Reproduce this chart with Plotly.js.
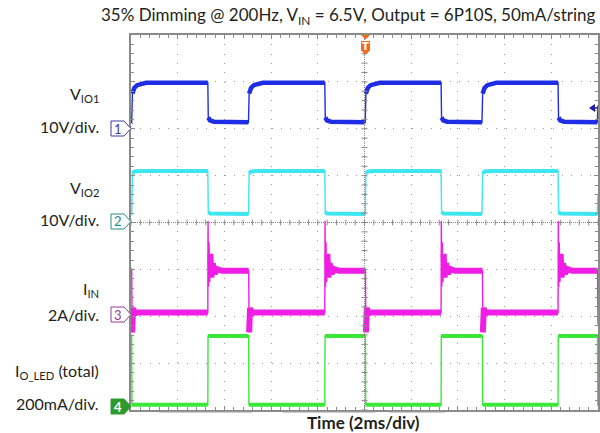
<!DOCTYPE html>
<html><head><meta charset="utf-8">
<script src="https://cdn.plot.ly/plotly-3.0.1.min.js"></script>
<style>html,body{margin:0;padding:0;background:#fff;}#chart{width:600px;height:433px;}</style>
</head><body><div id="chart"></div>
<script>
// ---- Data (time in ms, trigger at 0) ----
// CH1: V_IO1 (volts)
const ch1T = [-10, -9.97, -9.94, -9.86, -9.74, -9.58, -9.35, -6.71, -6.69, -6.62, -6.45, -4.97, -4.94, -4.86, -4.74, -4.58, -4.35, -1.70, -1.68, -1.61, -1.44, 0.03, 0.06, 0.14, 0.26, 0.42, 0.65, 3.28, 3.30, 3.37, 3.54, 5.03, 5.06, 5.14, 5.26, 5.42, 5.65, 8.29, 8.31, 8.38, 8.55, 9.97, 10];
const ch1V = [1.4, 1.5, 7.5, 8.7, 9.3, 9.6, 9.8, 9.8, 2.4, 1.8, 1.5, 1.4, 7.5, 8.7, 9.3, 9.6, 9.8, 9.8, 2.4, 1.8, 1.5, 1.4, 7.5, 8.7, 9.3, 9.6, 9.8, 9.8, 2.4, 1.8, 1.5, 1.4, 7.5, 8.7, 9.3, 9.6, 9.8, 9.8, 2.4, 1.8, 1.5, 1.4, 5.0];
// CH2: V_IO2 (volts)
const ch2T = [-10, -9.97, -9.94, -9.85, -9.6, -6.71, -6.69, -6.6, -4.97, -4.94, -4.85, -4.6, -1.70, -1.68, -1.6, 0.03, 0.06, 0.15, 0.4, 3.28, 3.30, 3.39, 5.03, 5.06, 5.15, 5.4, 8.29, 8.31, 8.4, 9.97, 10];
const ch2V = [1.8, 1.9, 10.5, 10.9, 11.0, 11.0, 2.2, 1.9, 1.8, 10.5, 10.9, 11.0, 11.0, 2.2, 1.9, 1.8, 10.5, 10.9, 11.0, 11.0, 2.2, 1.9, 1.8, 10.5, 10.9, 11.0, 11.0, 2.2, 1.9, 1.8, 6.0];
// CH3: I_IN (amps)
const ch3T = [-10, -9.97, -9.95, -9.91, -9.86, -9.75,
  -6.71, -6.70, -6.68, -6.66, -6.63, -6.60, -6.56, -6.50, -6.42, -6.30, -6.10,
  -4.96, -4.94, -4.90, -4.85, -4.75,
  -1.70, -1.69, -1.67, -1.65, -1.62, -1.59, -1.55, -1.49, -1.41, -1.29, -1.09,
  0.04, 0.06, 0.10, 0.15, 0.25,
  3.28, 3.29, 3.31, 3.33, 3.36, 3.39, 3.43, 3.49, 3.57, 3.69, 3.89,
  5.05, 5.07, 5.11, 5.16, 5.26,
  8.29, 8.30, 8.32, 8.34, 8.37, 8.40, 8.44, 8.50, 8.58, 8.70, 8.90,
  9.98, 10];
const ch3V = [1.88, 1.88, -0.75, 0.3, 0.05, 0.1,
  0.1, 4.0, 1.2, 3.1, 1.4, 2.6, 1.6, 2.2, 1.75, 1.95, 1.88,
  1.88, -0.75, 0.3, 0.05, 0.1,
  0.1, 4.0, 1.2, 3.1, 1.4, 2.6, 1.6, 2.2, 1.75, 1.95, 1.88,
  1.88, -0.75, 0.3, 0.05, 0.1,
  0.1, 4.0, 1.2, 3.1, 1.4, 2.6, 1.6, 2.2, 1.75, 1.95, 1.88,
  1.88, -0.75, 0.3, 0.05, 0.1,
  0.1, 4.0, 1.2, 3.1, 1.4, 2.6, 1.6, 2.2, 1.75, 1.95, 1.88,
  1.88, -0.4];
// CH4: I_O_LED total (mA)
const ch4T = [-10, -9.97, -9.96, -6.71, -6.70, -4.96, -4.95, -1.70, -1.69, 0.04, 0.05, 3.28, 3.29, 5.05, 5.06, 8.29, 8.30, 9.98, 9.99, 10];
const ch4V = [300, 300, 6, 6, 300, 300, 6, 6, 300, 300, 6, 6, 300, 300, 6, 6, 300, 300, 6, 6];

// Text
const titleText = '35% Dimming @ 200Hz, V<sub>IN</sub> = 6.5V, Output = 6P10S, 50mA/string';
const chNames = ['V<sub>IO1</sub>', 'V<sub>IO2</sub>', 'I<sub>IN</sub>', 'I<sub>O_LED</sub> (total)'];
const chScales = ['10V/div.', '10V/div.', '2A/div.', '200mA/div.'];
const xTitle = '<b>Time (2ms/div)</b>';

// ---- Channel display settings (per-div scale, vertical offset in divisions, colours) ----
const chans = [
  {t: ch1T, v: ch1V, scale: 10, off: 2.0, color: '#1f2ee6', band: 4.5, mark: '#3a3aa0', num: '1', fillMark: false},
  {t: ch2T, v: ch2V, scale: 10, off: 0.0, color: '#3ee6f0', band: 4, mark: '#2a8c8c', num: '2', fillMark: false},
  {t: ch3T, v: ch3V, scale: 2, off: -1.97, color: '#f01ee4', band: 6, mark: '#963a96', num: '3', fillMark: false},
  {t: ch4T, v: ch4V, scale: 200, off: -3.92, color: '#3ae83a', band: 4, mark: '#2e9a2e', num: '4', fillMark: true}
];

// Frame in pixels
const L = 131, R = 598, T = 35, B = 410;
const W = R - L, H = B - T;
const pX = x => (x - L) / W;
const pY = y => (B - y) / H;

const traces = [];
chans.forEach(c => {
  const yd = c.v.map(v => v / c.scale + c.off);
  traces.push({x: c.t, y: yd, mode: 'lines', line: {color: c.color, width: 1.4}, hoverinfo: 'skip', showlegend: false});
  // thick (noisy-looking) band on flat parts only; gaps across fast edges
  const bx = [], by = [];
  for (let i = 0; i < c.t.length; i++) {
    bx.push(c.t[i]); by.push(yd[i]);
    if (i < c.t.length - 1) {
      const dt = c.t[i + 1] - c.t[i], dy = Math.abs(yd[i + 1] - yd[i]);
      if (dt < 0.035 && dy > 0.3) { bx.push(null); by.push(null); }
    }
  }
  traces.push({x: bx, y: by, mode: 'lines', connectgaps: false, line: {color: c.color, width: c.band}, hoverinfo: 'skip', showlegend: false});
});

const gridCol = '#9a9a9a';
const frameCol = '#8a8a8a';
const shapes = [];
// centre graticule lines (dense dots + minor ticks)
shapes.push({type: 'line', xref: 'x', yref: 'y', x0: -10, x1: 10, y0: 0, y1: 0, line: {color: '#8a8a8a', width: 1, dash: '1px,1px'}});
shapes.push({type: 'line', xref: 'x', yref: 'y', x0: 0, x1: 0, y0: -4, y1: 4, line: {color: '#8a8a8a', width: 1, dash: '1px,1px'}});
for (let k = -25; k <= 25; k++) {
  const x = k * 0.4;
  shapes.push({type: 'line', xref: 'x', yref: 'y', x0: x, x1: x, y0: -0.06, y1: 0.06, line: {color: '#8a8a8a', width: 1}});
}
for (let k = -20; k <= 20; k++) {
  const y = k * 0.2;
  shapes.push({type: 'line', xref: 'x', yref: 'y', x0: -0.13, x1: 0.13, y0: y, y1: y, line: {color: '#8a8a8a', width: 1}});
}
// channel markers (pentagon boxes)
const markY = [128.5, 221.5, 314.5, 406.5];
const annotations = [];
chans.forEach((c, i) => {
  const yc = markY[i];
  const path = `M${pX(111)},${pY(yc - 7.5)} L${pX(124)},${pY(yc - 7.5)} L${pX(131)},${pY(yc)} L${pX(124)},${pY(yc + 7.5)} L${pX(111)},${pY(yc + 7.5)} Z`;
  shapes.push({type: 'path', xref: 'paper', yref: 'paper', path: path, line: {color: c.mark, width: 1}, fillcolor: c.fillMark ? c.mark : '#ffffff'});
  annotations.push({xref: 'paper', yref: 'paper', x: pX(117.5), y: pY(yc), text: c.fillMark ? '<b>' + c.num + '</b>' : c.num, showarrow: false, xanchor: 'center', yanchor: 'middle', font: {family: 'Lato, sans-serif', size: 13, color: c.fillMark ? '#ffffff' : c.mark}});
});
// trigger marker (top) and trigger level arrow (right)
shapes.push({type: 'path', xref: 'paper', yref: 'paper', path: `M${pX(361)},${pY(35)} L${pX(370)},${pY(35)} L${pX(365.5)},${pY(39.5)} Z`, line: {width: 0}, fillcolor: '#f26b1d'});
shapes.push({type: 'path', xref: 'paper', yref: 'paper', path: `M${pX(361)},${pY(41)} L${pX(370)},${pY(41)} L${pX(370)},${pY(50.5)} L${pX(365.5)},${pY(54.5)} L${pX(361)},${pY(50.5)} Z`, line: {width: 0}, fillcolor: '#f26b1d'});
annotations.push({xref: 'paper', yref: 'paper', x: pX(365.5), y: pY(46.5), text: '<b>T</b>', showarrow: false, xanchor: 'center', yanchor: 'middle', font: {family: 'DejaVu Sans, sans-serif', size: 10, color: '#ffffff'}});
shapes.push({type: 'path', xref: 'paper', yref: 'paper', path: `M${pX(589)},${pY(108)} L${pX(595)},${pY(104)} L${pX(595)},${pY(112)} Z`, line: {width: 0}, fillcolor: '#1f1f9f'});
shapes.push({type: 'line', xref: 'paper', yref: 'paper', x0: pX(595), x1: pX(598), y0: pY(108), y1: pY(108), line: {color: '#1f1f9f', width: 1.5}});
// ruler segments below the frame
[[159, 252], [283, 375], [389, 445]].forEach(s => {
  shapes.push({type: 'line', xref: 'paper', yref: 'paper', x0: pX(s[0]), x1: pX(s[1]), y0: pY(412), y1: pY(412), line: {color: '#a0a0a0', width: 1.2}});
});

// labels
const txtFont = {family: 'Lato, sans-serif', size: 16, color: '#231f20'};
const nameY = [94, 188, 289, 371];
const scaleY = [126, 219, 315, 403];
chNames.forEach((n, i) => {
  annotations.push({xref: 'paper', yref: 'paper', x: pX(101), y: pY(nameY[i]), text: n, showarrow: false, xanchor: 'right', yanchor: 'middle', font: txtFont});
  annotations.push({xref: 'paper', yref: 'paper', x: pX(101), y: pY(scaleY[i]), text: chScales[i], showarrow: false, xanchor: 'right', yanchor: 'middle', font: txtFont});
});
annotations.push({xref: 'paper', yref: 'paper', x: pX(348), y: pY(16), text: titleText, showarrow: false, xanchor: 'center', yanchor: 'middle', font: {family: 'Lato, sans-serif', size: 17, color: '#231f20'}});
annotations.push({xref: 'paper', yref: 'paper', x: pX(363), y: pY(422), text: xTitle, showarrow: false, xanchor: 'center', yanchor: 'middle', borderpad: 0, font: {family: 'Lato, sans-serif', size: 17, color: '#231f20'}});

const axCommon = {
  showgrid: true, gridcolor: gridCol, gridwidth: 1, zeroline: false, showticklabels: false,
  showline: true, linecolor: frameCol, linewidth: 2, mirror: 'ticks',
  ticks: 'inside', ticklen: 4, tickcolor: frameCol, tickwidth: 1, fixedrange: true
};
const layout = {
  width: 600, height: 433,
  margin: {l: L, r: 600 - R, t: T, b: 433 - B, pad: 0},
  paper_bgcolor: '#ffffff', plot_bgcolor: '#ffffff',
  showlegend: false, hovermode: false,
  xaxis: Object.assign({}, axCommon, {range: [-10, 10], tick0: -10, dtick: 2, griddash: '1px,8.34px',
    minor: {ticks: 'inside', ticklen: 3, tickcolor: frameCol, dtick: 0.4, tick0: -10, showgrid: false}}),
  yaxis: Object.assign({}, axCommon, {range: [-4, 4], tick0: -4, dtick: 1, griddash: '1px,8.37px',
    minor: {ticks: 'inside', ticklen: 3, tickcolor: frameCol, dtick: 0.2, tick0: -4, showgrid: false}}),
  shapes: shapes,
  annotations: annotations
};
Plotly.newPlot('chart', traces, layout, {staticPlot: true, displayModeBar: false});
</script></body></html>
